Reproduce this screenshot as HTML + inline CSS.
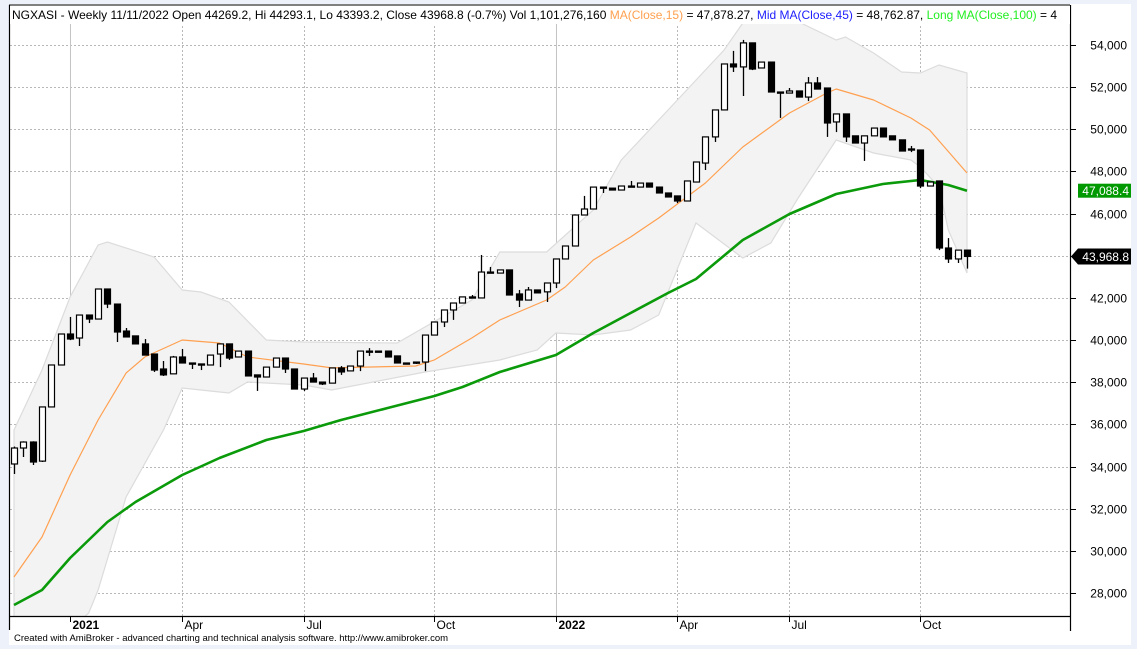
<!DOCTYPE html>
<html><head><meta charset="utf-8"><style>
html,body{margin:0;padding:0;background:#edf1f9;}
svg{display:block;font-family:"Liberation Sans",Arial,sans-serif;}
</style></head><body>
<svg id="chart" width="1137" height="649" viewBox="0 0 1137 649" xmlns="http://www.w3.org/2000/svg">
<rect x="0" y="0" width="1137" height="649" fill="#edf1f9"/>
<rect x="9" y="4" width="1122" height="641" fill="#ffffff"/>
<defs><clipPath id="plotclip"><rect x="10" y="6" width="1060" height="610"/></clipPath></defs>
<g id="grid"></g>
<g id="band" clip-path="url(#plotclip)"></g>
<g id="lines" clip-path="url(#plotclip)"></g>
<g id="candles" clip-path="url(#plotclip)"></g>
<g id="axes"></g>
<rect x="10" y="6" width="1058" height="18" fill="#ffffff"/>
<text x="12" y="19" font-size="12" fill="#000"><tspan>NGXASI - Weekly 11/11/2022 Open 44269.2, Hi 44293.1, Lo 43393.2, Close 43968.8 (-0.7%) Vol 1,101,276,160 </tspan><tspan fill="#ffa050">MA(Close,15)</tspan><tspan> = 47,878.27, </tspan><tspan fill="#2020ff">Mid MA(Close,45)</tspan><tspan> = 48,762.87, </tspan><tspan fill="#22ee22">Long MA(Close,100)</tspan><tspan> = 4</tspan></text>
<rect x="1066" y="6" width="4" height="18" fill="#fff"/>
<line x1="9" y1="5" x2="1070" y2="5" stroke="#000"/>
<text x="14" y="641" font-size="9.5" fill="#000">Created with AmiBroker - advanced charting and technical analysis software. http://www.amibroker.com</text>
<script>
const opens=[34124,34882,35166,34260,36830,38820,40290,40100,41190,41000,42425,41710,40430,40200,39820,39340,38630,38400,39200,38915,38870,38820,39340,39820,39200,39480,38350,38250,38720,39150,38630,37680,38200,38010,37960,38680,38540,38770,39480,39480,39480,39250,38915,38915,38960,40240,40860,41430,41760,42050,42000,43230,43180,43330,42190,41900,42380,42290,42710,43850,44465,45935,46220,47260,47210,47120,47310,47260,47450,47260,46980,46840,46600,47500,48400,49640,50920,53100,52960,54100,52910,53190,51770,51720,51820,51530,52200,51960,50350,50730,49690,49350,49690,50060,49690,49500,49070,49020,47310,47550,44370,43850,44269];
const highs=[34950,35200,35200,36830,38820,40290,41100,41190,41190,42425,42425,41710,40575,40200,40050,39340,39010,39250,39580,38915,38870,39290,39820,39820,39480,39480,38350,38720,39150,39150,38630,38200,38440,38010,38680,38770,38770,39480,39620,39480,39480,39250,38915,38960,40240,40860,41430,41760,42050,42140,44040,43470,43330,43330,42380,42520,42380,42710,43850,44465,45935,46840,47260,47260,47210,47310,47550,47450,47450,47260,46980,46840,47550,48450,49640,50920,53100,53720,54240,54100,53190,53190,51770,51960,51820,52480,52480,51960,50730,50730,49690,49690,50060,50060,49690,49500,49210,49020,47500,47550,44840,44270,44293];
const lows=[33650,34455,34076,34218,36830,38820,40000,39720,40810,41000,41520,39910,40150,39820,39290,38490,38300,38400,38915,38630,38580,38820,38720,39060,39200,38300,37590,38250,38720,38440,37680,37590,38010,37870,37960,38350,38540,38530,39250,39480,39200,38915,38870,38870,38530,40240,40620,40960,41760,42000,42000,43180,43180,42140,41570,41900,42240,41810,42470,43850,44465,45935,46220,46980,47120,47120,47290,47260,47260,46980,46790,46500,46600,47500,48070,49400,50920,52720,51580,52810,52910,51770,50540,51720,51530,51340,51910,49640,49870,49400,49350,48500,49690,49640,49500,48970,48920,47210,47310,44270,43660,43660,43393];
const closes=[34882,35166,34218,36830,38820,40290,40053,41190,41000,42425,41710,40385,40150,39820,39290,38580,38350,39200,38915,38870,38820,39290,39820,39150,39480,38300,38250,38720,39150,38630,37680,38200,38010,37920,38680,38490,38770,39480,39440,39480,39200,38915,38870,38960,40240,40860,41430,41760,42050,42000,43230,43180,43330,42140,41900,42380,42240,42710,43850,44465,45935,46220,47260,47210,47120,47310,47290,47450,47260,46980,46790,46600,47550,48450,49640,50920,53100,52960,54100,52860,53190,51770,51720,51820,51530,52200,51910,50300,50730,49640,49350,49690,50060,49640,49500,48970,49070,47310,47500,44370,43850,44270,43969];
const ma15Idx=[0,3,6,9,12,14,18,22,25,31,34,43,45,49,52,57,59,62,66,69,74,78,83,87,88,92,96,98,102];
const ma15Val=[28763,30660,33602,36211,38440,39199,40006,39863,39199,38867,38680,38770,39060,40101,40954,41903,42520,43801,44892,45793,47454,49161,50774,51723,51913,51391,50537,49968,47928];
const ma100Idx=[0,3,6,10,13,18,22,27,31,35,40,45,48,52,58,62,66,70,73,78,83,88,93,97,100,102];
const ma100Val=[27435,28146,29664,31372,32321,33602,34408,35262,35689,36211,36780,37349,37776,38488,39294,40338,41287,42235,42899,44750,45983,46932,47406,47596,47359,47088];
const upIdx=[0,3,6,9,10,15,18,20,23,27,31,41,49,52,57,62,65,71,76,78,82,88,89,92,95,97,99,102];
const upVal=[35736,38583,42046,44512,44655,43943,42378,42283,41808,40006,39911,39863,41903,44180,44180,46173,48545,51391,53763,55044,55518,54237,54380,53620,52719,52672,53051,52672];
const loIdx=[0,8,9,12,16,18,20,23,25,31,34,44,52,56,58,62,66,69,73,78,81,84,88,92,96,97,99,100,102];
const loVal=[23877,27055,28146,32558,35736,37729,37634,37491,38013,37871,37634,38488,39057,39531,40338,40243,40480,41192,45556,43896,44607,46789,49493,48877,48545,48213,47264,45224,43184];
const yTicks=[28000,30000,32000,34000,36000,38000,40000,42000,44000,46000,48000,50000,52000,54000];
const xLabels=["2021","Apr","Jul","Oct","2022","Apr","Jul","Oct"];
const xLabelIdx=[6,18,31,45,58,71,83,97];
const lastClose=43968.8, lastMA100=47088.4;

const NS="http://www.w3.org/2000/svg";
function X(i){return 14+i*9.343;}
function Y(v){return 45+(54000-v)*0.02108;}
function mk(tag,attrs,parent){const e=document.createElementNS(NS,tag);for(const k in attrs)e.setAttribute(k,attrs[k]);parent.appendChild(e);return e;}
const grid=document.getElementById('grid'),band=document.getElementById('band'),lines=document.getElementById('lines'),cg=document.getElementById('candles'),axes=document.getElementById('axes');
function fmt(v){return v.toLocaleString('en-US');}
// horizontal grid & y labels
yTicks.forEach(v=>{
  const y=Math.round(Y(v))+0.5;
  const g=mk('line',{x1:10,y1:y,x2:1070,y2:y,stroke:'#b8b8b8','stroke-dasharray':'2,2'},grid);
  
  
  const t=mk('line',{x1:1070,y1:y,x2:1076,y2:y,stroke:'#000'},axes);
  
  
  const tx=mk('text',{x:1127,y:y+4,'font-size':12,'text-anchor':'end',fill:'#000'},axes);
  tx.textContent=fmt(v);
  
  
});
// vertical grid & x labels
xLabels.forEach((lab,k)=>{
  const x=Math.round(X(xLabelIdx[k]))+0.5;
  const yr=/^\d{4}$/.test(lab);
  const g=mk('line',{x1:x,y1:6,x2:x,y2:616,stroke:yr?'#c4c4c4':'#b8b8b8','stroke-dasharray':yr?'none':'2,2'},grid);
  
  
  const t=mk('line',{x1:x,y1:616,x2:x,y2:622,stroke:'#000'},axes);
  
  
  const tx=mk('text',{x:x+2,y:629,'font-size':12,'font-weight':yr?'bold':'normal',fill:'#000'},axes);
  tx.textContent=lab;
  
  
});
// band
let d='';
upIdx.forEach((i,k)=>{d+=(k?'L':'M')+X(i).toFixed(1)+','+Y(upVal[k]).toFixed(1);});
for(let k=loIdx.length-1;k>=0;k--){d+='L'+X(loIdx[k]).toFixed(1)+','+Y(loVal[k]).toFixed(1);}
d+='Z';
const bp=mk('path',{d:d,fill:'#f3f3f3',stroke:'#dcdcdc','stroke-width':1.2},band);


function poly(idx,val,color,w,name){
  const p=mk('polyline',{points:idx.map((i,k)=>X(i).toFixed(1)+','+Y(val[k]).toFixed(1)).join(' '),fill:'none',stroke:color,'stroke-width':w,'stroke-linejoin':'round'},lines);
  
  
}
poly(ma15Idx,ma15Val,'#ffa050',1.2,'ma15-line');
poly(ma100Idx,ma100Val,'#0a9a0a',2.6,'ma100-line');
// candles
closes.forEach((c,i)=>{
  const o=opens[i],x=Math.round(X(i));
  const w=mk('line',{x1:x+0.5,y1:Y(highs[i]),x2:x+0.5,y2:Y(lows[i]),stroke:'#000','stroke-width':1.3},cg);
  
  
  const top=Y(Math.max(o,c)),bot=Y(Math.min(o,c));
  const r=mk('rect',{x:x-2.5,y:top,width:6,height:Math.max(bot-top,1.2),fill:c>=o?'#fff':'#000',stroke:'#000','stroke-width':1.2},cg);
  
  
});
// frame
[[9.5,5,9.5,630],[9,616.5,1070,616.5],[1070.5,5,1070.5,631]].forEach(a=>{
  const l=mk('line',{x1:a[0],y1:a[1],x2:a[2],y2:a[3],stroke:'#000','stroke-width':1.2},axes);
  
  
});
// value markers
const ym=Y(lastMA100);
const gb=mk('rect',{x:1078,y:ym-7,width:53,height:14,fill:'#009900'},axes);


const gt=mk('text',{x:1129,y:ym+4.5,'font-size':12,'text-anchor':'end',fill:'#fff'},axes);
gt.textContent=lastMA100.toLocaleString('en-US',{minimumFractionDigits:1});


const yc=Y(lastClose);
const cb=mk('path',{d:`M1071,${yc} L1078,${yc-8} L1131,${yc-8} L1131,${yc+8} L1078,${yc+8} Z`,fill:'#000'},axes);


const ct=mk('text',{x:1129,y:yc+4.5,'font-size':12,'text-anchor':'end',fill:'#fff'},axes);
ct.textContent=lastClose.toLocaleString('en-US',{minimumFractionDigits:1});


</script>
</svg>
</body></html>
